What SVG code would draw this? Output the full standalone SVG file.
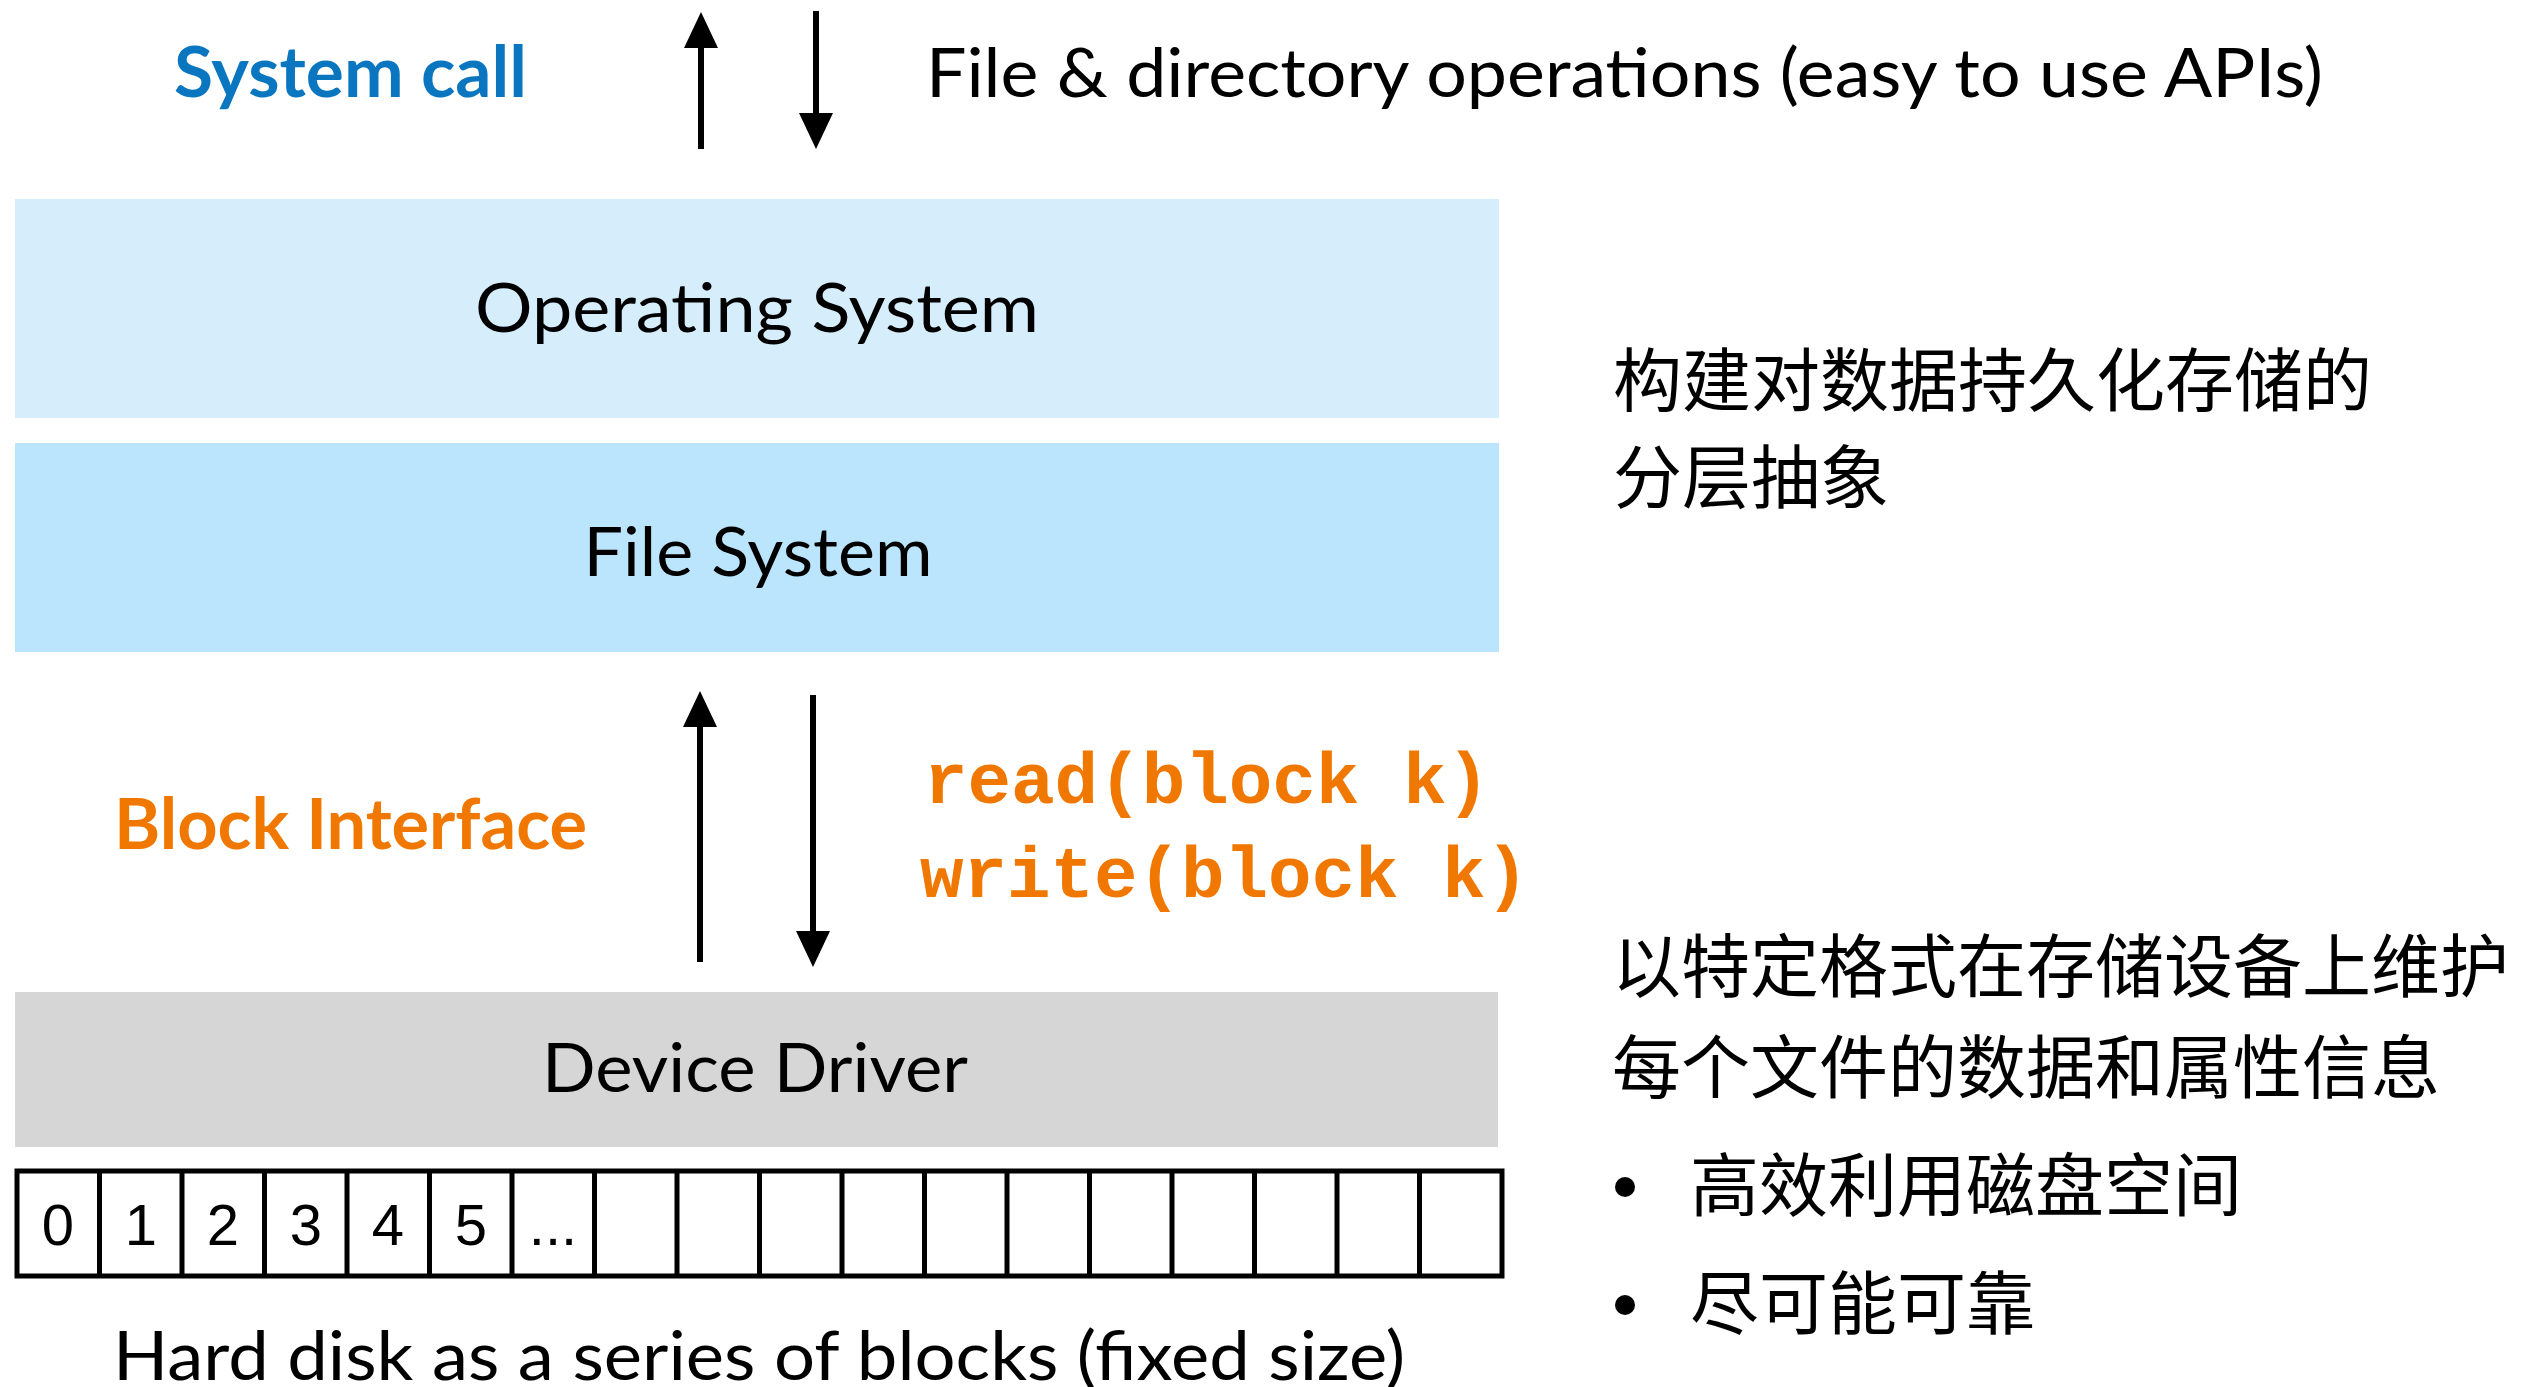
<svg xmlns="http://www.w3.org/2000/svg" width="2539" height="1387" viewBox="0 0 2539 1387">
<style>
.lat{font-family:Lato,"Open Sans","Liberation Sans",sans-serif;}
.t{font-family:Lato,"Open Sans","Liberation Sans",sans-serif;font-size:68px;fill:#000;}
.mono{font-family:"Liberation Mono","Courier New",monospace;font-weight:bold;font-size:72px;fill:#F07800;}
.num{font-family:"Liberation Sans",Arial,sans-serif;font-size:58px;fill:#000;text-anchor:middle;}
.cjk{font-family:"Noto Sans CJK SC","Noto Sans",sans-serif;font-size:69px;fill:#000;}
.ln{stroke:#000;stroke-width:6;fill:none;}
.cell{stroke:#000;stroke-width:5;fill:none;}
</style>
<defs>
<marker id="ah" markerUnits="userSpaceOnUse" viewBox="0 0 36 34" markerWidth="36" markerHeight="34" refX="11" refY="17" orient="auto">
<path d="M0,0 L36,17 L0,34 z" fill="#000"/>
</marker>
</defs>
<rect width="2539" height="1387" fill="#fff"/>

<g id="label-syscall">
<text class="lat" x="174" y="97" font-size="70" font-weight="bold" fill="#0B76C0" textLength="353" lengthAdjust="spacingAndGlyphs">System call</text>
<text class="t" x="926" y="97" textLength="1397" lengthAdjust="spacingAndGlyphs">File &amp; directory operations (easy to use APIs)</text>
</g>

<g id="node-os">
<rect x="15" y="199" width="1484" height="219" fill="#D6EDFC"/>
<text class="t" x="757" y="332" text-anchor="middle" textLength="564" lengthAdjust="spacingAndGlyphs">Operating System</text>
</g>

<g id="node-fs">
<rect x="15" y="443" width="1484" height="209" fill="#BBE5FC"/>
<text class="t" x="758" y="576" text-anchor="middle" textLength="349" lengthAdjust="spacingAndGlyphs">File System</text>
</g>

<g id="label-block">
<text class="lat" x="114" y="849" font-size="70" font-weight="bold" fill="#F07800" textLength="473" lengthAdjust="spacingAndGlyphs">Block Interface</text>
<text class="mono" x="924" y="803" textLength="566" lengthAdjust="spacingAndGlyphs">read(block k)</text>
<text class="mono" x="920" y="897" textLength="609" lengthAdjust="spacingAndGlyphs">write(block k)</text>
</g>

<g id="node-driver">
<rect x="15" y="992" width="1483" height="155" fill="#D6D6D6"/>
<text class="t" x="755" y="1092" text-anchor="middle" textLength="426" lengthAdjust="spacingAndGlyphs">Device Driver</text>
</g>

<g id="node-disk">
<rect class="cell" x="17" y="1171" width="1485" height="105"/>
<path class="cell" d="M99.5,1171V1276M182,1171V1276M264.5,1171V1276M347,1171V1276M429.5,1171V1276M512,1171V1276M594.5,1171V1276M677,1171V1276M759.5,1171V1276M842,1171V1276M924.5,1171V1276M1007,1171V1276M1089.5,1171V1276M1172,1171V1276M1254.5,1171V1276M1337,1171V1276M1419.5,1171V1276"/>
<text class="num" x="58" y="1245">0</text>
<text class="num" x="141" y="1245">1</text>
<text class="num" x="223" y="1245">2</text>
<text class="num" x="306" y="1245">3</text>
<text class="num" x="388" y="1245">4</text>
<text class="num" x="471" y="1245">5</text>
<text class="num" x="553" y="1245">...</text>
<text class="t" x="113" y="1380" font-size="70" textLength="1292" lengthAdjust="spacingAndGlyphs">Hard disk as a series of blocks (fixed size)</text>
</g>

<g id="notes">
<text class="cjk" x="1613" y="406">构建对数据持久化存储的</text>
<text class="cjk" x="1613" y="503">分层抽象</text>
<text class="cjk" x="1612" y="992">以特定格式在存储设备上维护</text>
<text class="cjk" x="1612" y="1093">每个文件的数据和属性信息</text>
<circle cx="1625" cy="1187" r="10" fill="#000"/>
<text class="cjk" x="1690" y="1211">高效利用磁盘空间</text>
<circle cx="1625" cy="1305" r="10" fill="#000"/>
<text class="cjk" x="1690" y="1329">尽可能可靠</text>
</g>

<g id="connectors">
<line class="ln" x1="701" y1="149" x2="701" y2="37" marker-end="url(#ah)"/>
<line class="ln" x1="816" y1="11" x2="816" y2="124" marker-end="url(#ah)"/>
<line class="ln" x1="700" y1="962" x2="700" y2="716" marker-end="url(#ah)"/>
<line class="ln" x1="813" y1="695" x2="813" y2="942" marker-end="url(#ah)"/>
</g>
</svg>
